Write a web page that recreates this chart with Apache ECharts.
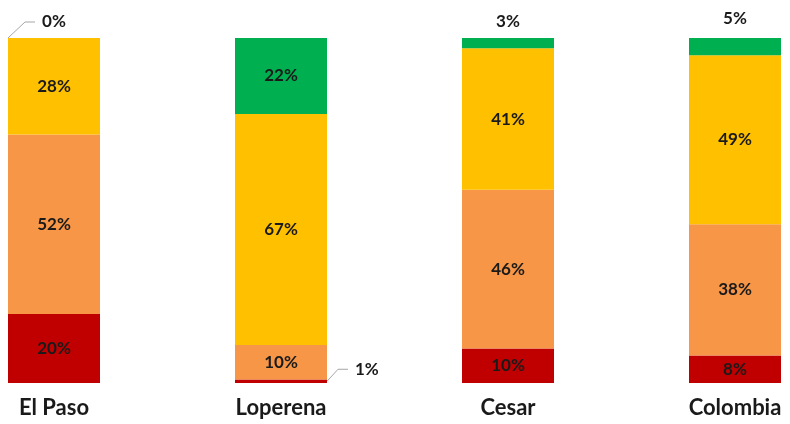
<!DOCTYPE html>
<html><head><meta charset="utf-8">
<script src="https://cdn.jsdelivr.net/npm/echarts@6/dist/echarts.min.js"></script>
<style>html,body{margin:0;padding:0;background:#fff}#c{width:790px;height:424px}</style>
</head><body><div id="c"></div>
<script>
const categories = ['El Paso', 'Loperena', 'Cesar', 'Colombia'];
const redValues = [20, 1, 10, 8];
const orangeValues = [52, 10, 46, 38];
const yellowValues = [28, 67, 41, 49];
const greenValues = [0, 22, 3, 5];

const FONT = 'Lato';
const BW = 92;
const baseLabel = {show: true, position: 'inside', formatter: '{c}%', fontFamily: FONT, fontWeight: 'bold', fontSize: 17, color: '#1a1a1a'};

function mk(name, values, color, special) {
  return {
    name, type: 'bar', stack: 's', barWidth: BW,
    itemStyle: {color},
    label: baseLabel,
    data: values.map((v, i) => special && special[i] ? Object.assign({value: v}, special[i]) : v)
  };
}

const chart = echarts.init(document.getElementById('c'), null, {renderer: 'canvas'});
chart.setOption({
  animation: false,
  grid: {left: 54, right: 55, top: 38, bottom: 41},
  xAxis: {type: 'category', data: categories, boundaryGap: false,
    axisLine: {show: false}, axisTick: {show: false},
    axisLabel: {margin: 14, fontFamily: FONT, fontWeight: 'bold', fontSize: 22, color: '#1a1a1a'}},
  yAxis: {type: 'value', min: 0, max: 100, show: false, splitLine: {show: false}},
  series: [
    mk('red', redValues, '#C00000', {1: {label: Object.assign({}, baseLabel, {position: 'right', distance: 28, offset: [0, -12]})}}),
    mk('orange', orangeValues, '#F79646'),
    mk('yellow', yellowValues, '#FFC000'),
    mk('green', greenValues, '#00B050', {
      0: {label: Object.assign({}, baseLabel, {position: 'top', distance: 8, offset: [0, 0]})},
      2: {label: Object.assign({}, baseLabel, {position: 'top', distance: 8})},
      3: {label: Object.assign({}, baseLabel, {position: 'top', distance: 11})}
    })
  ]
});

// leader lines computed from the chart's own scales
const half = BW / 2;
const pTop = chart.convertToPixel({seriesIndex: 0}, [0, 100]);
const pBot = chart.convertToPixel({seriesIndex: 0}, [1, redValues[1] / 2]);
chart.setOption({
  graphic: [
    {type: 'polyline', shape: {points: [[pTop[0] - half, pTop[1]], [pTop[0] - half + 17, pTop[1] - 16], [pTop[0] - half + 27, pTop[1] - 16]]},
     style: {stroke: '#a6a6a6', lineWidth: 1, fill: null}, silent: true},
    {type: 'polyline', shape: {points: [[pBot[0] + half, pBot[1]], [pBot[0] + half + 11, pBot[1] - 12], [pBot[0] + half + 21, pBot[1] - 12]]},
     style: {stroke: '#a6a6a6', lineWidth: 1, fill: null}, silent: true}
  ]
});
</script></body></html>
